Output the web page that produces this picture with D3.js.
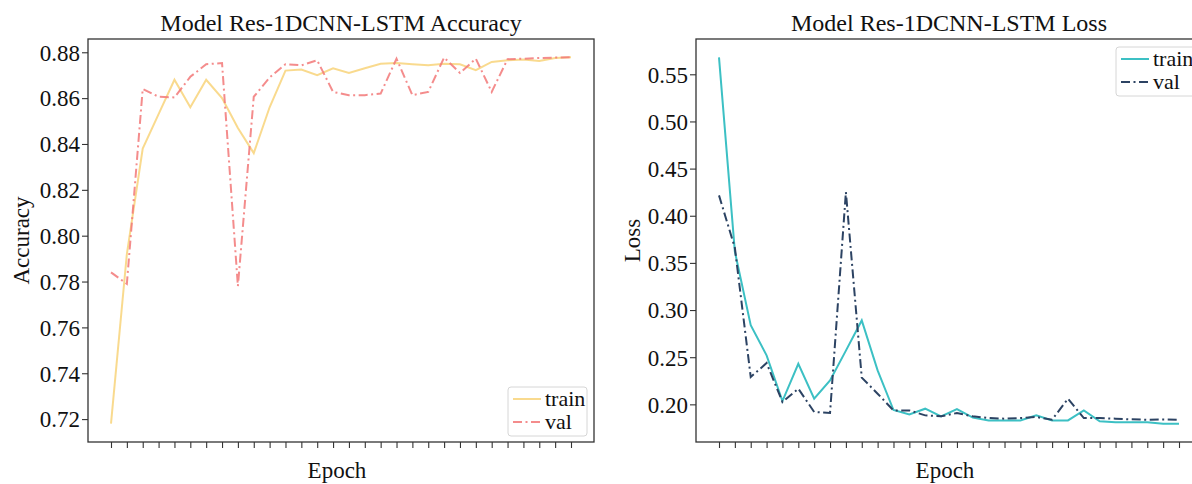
<!DOCTYPE html>
<html>
<head>
<meta charset="utf-8">
<script src="https://cdn.jsdelivr.net/npm/d3@7"></script>
<style>
    body { margin: 0; background: #fff; }
    text { font-family: "Liberation Serif", "Times New Roman", serif; fill: #111; }
</style>
</head>
<body>
<div id="container"></div>
<script>

var epochs = [1, 2, 3, 4, 5, 6, 7, 8, 9, 10, 11, 12, 13, 14, 15,
    16, 17, 18, 19, 20, 21, 22, 23, 24, 25, 26, 27, 28, 29, 30];

var accTrain = [0.718, 0.792, 0.838, 0.853, 0.868, 0.856, 0.868, 0.860, 0.847, 0.836,
    0.856, 0.872, 0.8725, 0.870, 0.873, 0.871, 0.873, 0.875, 0.8753, 0.8748,
    0.8743, 0.875, 0.8748, 0.8722, 0.8758, 0.8765, 0.8768, 0.8762, 0.8775, 0.8778];
var accVal = [0.784, 0.779, 0.864, 0.8606, 0.8603, 0.8693, 0.8748, 0.8753, 0.778, 0.8606,
    0.869, 0.8748, 0.8743, 0.8765, 0.8627, 0.8613, 0.8613, 0.862, 0.8772, 0.8613,
    0.8627, 0.8777, 0.871, 0.8772, 0.8627, 0.877, 0.8772, 0.8775, 0.8777, 0.8778];

var lossTrain = [0.568, 0.362, 0.284, 0.252, 0.2035, 0.243, 0.206, 0.2254, 0.257, 0.289,
    0.236, 0.194, 0.1894, 0.1954, 0.1873, 0.195, 0.1859, 0.183, 0.183, 0.183,
    0.1883, 0.183, 0.183, 0.1936, 0.182, 0.181, 0.181, 0.181, 0.1795, 0.1795];
var lossVal = [0.4216, 0.366, 0.229, 0.2438, 0.2025, 0.2166, 0.1919, 0.1908, 0.4251, 0.2283,
    0.2113, 0.1936, 0.1936, 0.1883, 0.1873, 0.1908, 0.1873, 0.1855, 0.1848, 0.1855,
    0.1866, 0.1837, 0.206, 0.1855, 0.1855, 0.1848, 0.1841, 0.1837, 0.184, 0.1837];

var accTicks = [0.72, 0.74, 0.76, 0.78, 0.80, 0.82, 0.84, 0.86, 0.88];
var lossTicks = [0.20, 0.25, 0.30, 0.35, 0.40, 0.45, 0.50, 0.55];

var seriesNames = ["train", "val"];

var svg = d3.select("#container")
    .append("svg")
    .attr("width", 1192)
    .attr("height", 484);

// pad a domain by 5% on each side, like matplotlib's default margins
function padded(lo, hi)
{
    var m = (hi - lo) * 0.05;
    return [lo - m, hi + m];
}

function drawPanel(cfg)
{
    var width = 506, height = 403;

    var g = svg.append("g")
        .attr("transform", "translate(" + cfg.left + "," + cfg.top + ")");

    var x = d3.scaleLinear()
        .domain(padded(d3.min(epochs), d3.max(epochs)))
        .range([0, width]);

    var all = cfg.train.concat(cfg.val);
    var y = d3.scaleLinear()
        .domain(padded(d3.min(all), d3.max(all)))
        .range([height, 0]);

    var yAxis = g.append("g")
        .call(d3.axisLeft(y).tickValues(cfg.ticks).tickFormat(d3.format(".2f")).tickSize(6).tickPadding(2));
    yAxis.selectAll("text").style("font-size", "23px").attr("dy", "0.34em");

    var xAxis = g.append("g")
        .attr("transform", "translate(0," + height + ")")
        .call(d3.axisBottom(x).tickValues(epochs).tickFormat("").tickSize(6));

    g.selectAll(".domain").remove();
    g.selectAll(".tick line").attr("stroke", "#333").attr("stroke-width", 1.1);

    var line = d3.line()
        .x(function (d, i) { return x(epochs[i]); })
        .y(function (d) { return y(d); });

    g.append("path")
        .datum(cfg.train)
        .attr("fill", "none")
        .attr("stroke", cfg.colors[0])
        .attr("stroke-opacity", cfg.opacity)
        .attr("stroke-width", 2)
        .attr("d", line);

    g.append("path")
        .datum(cfg.val)
        .attr("fill", "none")
        .attr("stroke", cfg.colors[1])
        .attr("stroke-opacity", cfg.opacity)
        .attr("stroke-width", 2)
        .attr("stroke-dasharray", "9,3.5,2,3.5")
        .attr("d", line);

    // frame
    g.append("rect")
        .attr("width", width)
        .attr("height", height)
        .attr("fill", "none")
        .attr("stroke", "#333")
        .attr("stroke-width", 1.3);

    g.append("text")
        .attr("x", width / 2)
        .attr("y", -8)
        .attr("text-anchor", "middle")
        .style("font-size", "24px")
        .text(cfg.title);

    g.append("text")
        .attr("x", width / 2 - 4)
        .attr("y", height + 36)
        .attr("text-anchor", "middle")
        .style("font-size", "23px")
        .text("Epoch");

    g.append("text")
        .attr("transform", "translate(" + cfg.labelX + "," + height / 2 + ") rotate(-90)")
        .attr("text-anchor", "middle")
        .style("font-size", "23px")
        .text(cfg.ylabel);

    var lg = g.append("g")
        .attr("transform", "translate(" + (width - 86) + "," + cfg.legendY + ")");

    lg.append("rect")
        .attr("width", 79)
        .attr("height", 49)
        .attr("rx", 3)
        .attr("fill", "#fff")
        .attr("fill-opacity", 0.8)
        .attr("stroke", "#d6d6d6")
        .attr("stroke-width", 1);

    seriesNames.forEach(function (name, i)
    {
        var ry = 12 + i * 23;
        var l = lg.append("line")
            .attr("x1", 5).attr("x2", 33)
            .attr("y1", ry).attr("y2", ry)
            .attr("stroke", cfg.colors[i])
            .attr("stroke-opacity", cfg.opacity)
            .attr("stroke-width", 2);
        if (i == 1) l.attr("stroke-dasharray", "9,3.5,2,3.5");
        lg.append("text")
            .attr("x", 37)
            .attr("y", ry + 7)
            .style("font-size", "22px")
            .text(name);
    });
}

drawPanel({
    left: 88, top: 39,
    title: "Model Res-1DCNN-LSTM Accuracy",
    ylabel: "Accuracy",
    labelX: -59,
    train: accTrain, val: accVal,
    ticks: accTicks,
    colors: ["#f8d47a", "#f27878"],
    opacity: 0.85,
    legendY: 403 - 55
});

drawPanel({
    left: 696, top: 39,
    title: "Model Res-1DCNN-LSTM Loss",
    ylabel: "Loss",
    labelX: -56,
    train: lossTrain, val: lossVal,
    ticks: lossTicks,
    colors: ["#3cc0c4", "#2c4363"],
    opacity: 1,
    legendY: 8
});

</script>
</body>
</html>
